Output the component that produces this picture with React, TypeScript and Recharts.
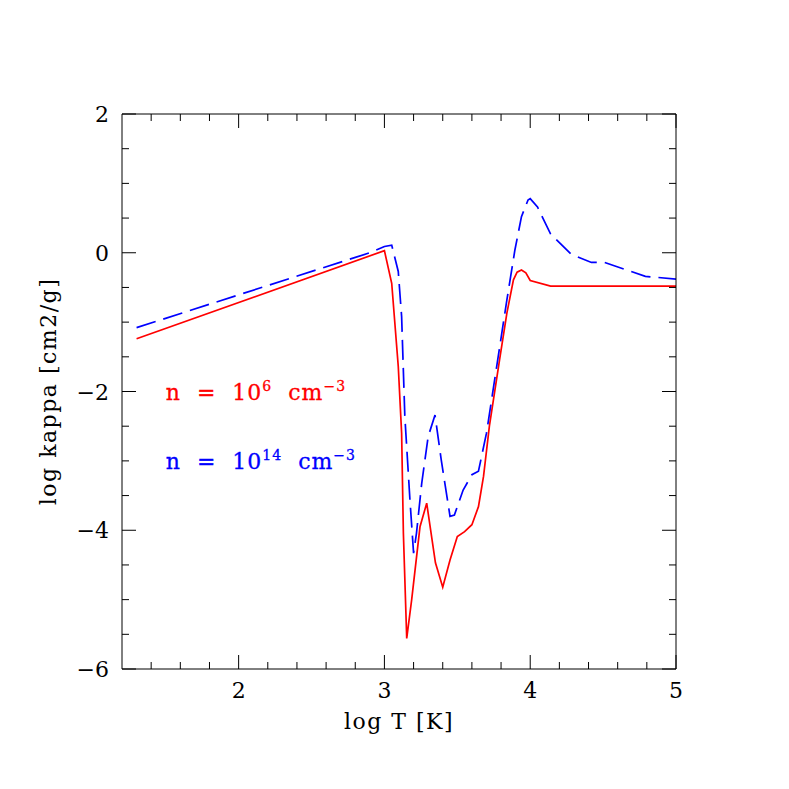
import React from "react";
import { LineChart, Line, XAxis, YAxis, ReferenceDot, Label } from "recharts";

// log T [K] vs log kappa for n = 1e6 cm^-3 (red)
const lowDensityT = [
  1.3, 3.0, 3.05, 3.095, 3.118, 3.13, 3.153, 3.187, 3.244, 3.29, 3.35, 3.4, 3.45, 3.5, 3.55, 3.6,
  3.645, 3.68, 3.72, 3.79, 3.84, 3.885, 3.91, 3.94, 3.97, 4.0, 4.14, 5.0,
];
const lowDensityKappa = [
  -1.24, 0.03, -0.44, -1.64, -2.6, -4.04, -5.56, -5.0, -3.95, -3.61, -4.47, -4.82, -4.43, -4.09, -4.02,
  -3.92, -3.66, -3.22, -2.5, -1.54, -0.87, -0.39, -0.28, -0.25, -0.29, -0.4, -0.48, -0.48,
];

// n = 1e14 cm^-3 (blue, dashed)
const highDensityT = [
  1.3, 2.9, 3.0, 3.05, 3.095, 3.118, 3.14, 3.175, 3.2, 3.22, 3.256, 3.3, 3.347, 3.39, 3.45, 3.48, 3.54,
  3.6, 3.645, 3.7, 3.77, 3.84, 3.895, 3.94, 3.985, 4.0, 4.05, 4.14, 4.28, 4.42, 4.51, 4.65, 4.79, 5.0,
];
const highDensityKappa = [
  -1.08, 0.0, 0.09, 0.11, -0.27, -0.92, -2.36, -3.56, -4.33, -4.04, -3.32, -2.65, -2.34, -2.99, -3.8,
  -3.78, -3.42, -3.2, -3.15, -2.6, -1.64, -0.68, 0.04, 0.52, 0.76, 0.78, 0.66, 0.27, -0.02, -0.14, -0.14,
  -0.24, -0.34, -0.38,
];

const xTicks = [
  1.4, 1.6, 1.8, 2, 2.2, 2.4, 2.6, 2.8, 3, 3.2, 3.4, 3.6, 3.8, 4, 4.2, 4.4, 4.6, 4.8, 5,
];
const yTicks = [-6, -5.5, -5, -4.5, -4, -3.5, -3, -2.5, -2, -1.5, -1, -0.5, 0, 0.5, 1, 1.5, 2];
const xMajor = [2, 3, 4, 5];
const yMajor = [-6, -4, -2, 0, 2];

const lowData = lowDensityT.map((t, i) => ({ t, k: lowDensityKappa[i] }));
const highData = highDensityT.map((t, i) => ({ t, k: highDensityKappa[i] }));

const FONT = "'DejaVu Serif', serif";
const MAJOR = 14;
const MINOR = 7;

const fmt = (v: number) => (v < 0 ? "\u2212" + Math.abs(v) : String(v));

const BottomTick = (p: any) => {
  const v = p.payload.value;
  const major = xMajor.includes(v);
  return (
    <g>
      <line x1={p.x} x2={p.x} y1={p.y} y2={p.y - (major ? MAJOR : MINOR)} stroke="#000" />
      {major && (
        <text x={p.x} y={p.y + 29} textAnchor="middle" fontFamily={FONT} fontSize={22} fill="#000">
          {fmt(v)}
        </text>
      )}
    </g>
  );
};

const TopTick = (p: any) => {
  const major = xMajor.includes(p.payload.value);
  return <line x1={p.x} x2={p.x} y1={p.y} y2={p.y + (major ? MAJOR : MINOR)} stroke="#000" />;
};

const LeftTick = (p: any) => {
  const v = p.payload.value;
  const major = yMajor.includes(v);
  return (
    <g>
      <line x1={p.x} x2={p.x + (major ? MAJOR : MINOR)} y1={p.y} y2={p.y} stroke="#000" />
      {major && (
        <text x={p.x - 13} y={p.y + 8} textAnchor="end" fontFamily={FONT} fontSize={22} fill="#000">
          {fmt(v)}
        </text>
      )}
    </g>
  );
};

const RightTick = (p: any) => {
  const major = yMajor.includes(p.payload.value);
  return <line x1={p.x} x2={p.x - (major ? MAJOR : MINOR)} y1={p.y} y2={p.y} stroke="#000" />;
};

const DensityNote = ({ viewBox, color, exp }: any) => {
  const x = viewBox.x + viewBox.width / 2;
  const y = viewBox.y + viewBox.height / 2;
  return (
    <text
      x={x}
      y={y + 8}
      fontFamily={FONT}
      fontSize={22}
      fill={color}
      stroke={color}
      strokeWidth={0.3}
      letterSpacing={1}
      style={{ whiteSpace: "pre" }}
    >
      <tspan>{"n  =  10"}</tspan>
      <tspan dy={-9} fontSize={14}>{exp}</tspan>
      <tspan dy={9}>{"  cm"}</tspan>
      <tspan dy={-9} fontSize={14}>{"\u22123"}</tspan>
    </text>
  );
};

export default function App() {
  return (
    <div style={{ position: "absolute", left: 0, top: 0, width: 789, height: 789, background: "#fff" }}>
      <LineChart width={789} height={789} margin={{ top: 113, left: 62, right: 112, bottom: 60 }}>
        <XAxis
          xAxisId="b"
          type="number"
          dataKey="t"
          domain={[1.2, 5]}
          allowDataOverflow
          ticks={xTicks}
          interval={0}
          height={60}
          tickSize={0}
          tickMargin={0}
          tickLine={false}
          axisLine={{ stroke: "#000" }}
          tick={BottomTick}
        >
          <Label
            content={({ viewBox }: any) => (
              <text
                x={viewBox.x + viewBox.width / 2}
                y={viewBox.y + 60}
                textAnchor="middle"
                fontFamily={FONT}
                fontSize={22}
                letterSpacing={1.5}
                fill="#000"
              >
                log T [K]
              </text>
            )}
          />
        </XAxis>
        <XAxis
          xAxisId="t"
          orientation="top"
          type="number"
          dataKey="t"
          domain={[1.2, 5]}
          allowDataOverflow
          ticks={xTicks}
          interval={0}
          height={1}
          tickSize={0}
          tickMargin={0}
          tickLine={false}
          axisLine={{ stroke: "#000" }}
          tick={TopTick}
        />
        <YAxis
          yAxisId="l"
          type="number"
          domain={[-6, 2]}
          allowDataOverflow
          ticks={yTicks}
          interval={0}
          width={60}
          tickSize={0}
          tickMargin={0}
          tickLine={false}
          axisLine={{ stroke: "#000" }}
          tick={LeftTick}
        >
          <Label
            content={({ viewBox }: any) => {
              const cy = viewBox.y + viewBox.height / 2;
              return (
                <text
                  x={56}
                  y={cy}
                  transform={`rotate(-90 56 ${cy})`}
                  textAnchor="middle"
                  fontFamily={FONT}
                  fontSize={22}
                  letterSpacing={1.5}
                  fill="#000"
                >
                  log kappa [cm2/g]
                </text>
              );
            }}
          />
        </YAxis>
        <YAxis
          yAxisId="r"
          orientation="right"
          type="number"
          domain={[-6, 2]}
          allowDataOverflow
          ticks={yTicks}
          interval={0}
          width={1}
          tickSize={0}
          tickMargin={0}
          tickLine={false}
          axisLine={{ stroke: "#000" }}
          tick={RightTick}
        />
        <Line
          xAxisId="b"
          yAxisId="l"
          data={lowData}
          dataKey="k"
          type="linear"
          stroke="#ff0000"
          strokeWidth={1.7}
          dot={false}
          activeDot={false}
          isAnimationActive={false}
        />
        <Line
          xAxisId="b"
          yAxisId="l"
          data={highData}
          dataKey="k"
          type="linear"
          stroke="#0000ff"
          strokeWidth={1.7}
          strokeDasharray="20 8"
          dot={false}
          activeDot={false}
          isAnimationActive={false}
        />
        <ReferenceDot
          xAxisId="b"
          yAxisId="l"
          x={1.5}
          y={-2}
          r={1}
          fill="none"
          stroke="none"
          label={<DensityNote color="#ff0000" exp="6" />}
        />
        <ReferenceDot
          xAxisId="b"
          yAxisId="l"
          x={1.5}
          y={-3}
          r={1}
          fill="none"
          stroke="none"
          label={<DensityNote color="#0000ff" exp="14" />}
        />
      </LineChart>
    </div>
  );
}
